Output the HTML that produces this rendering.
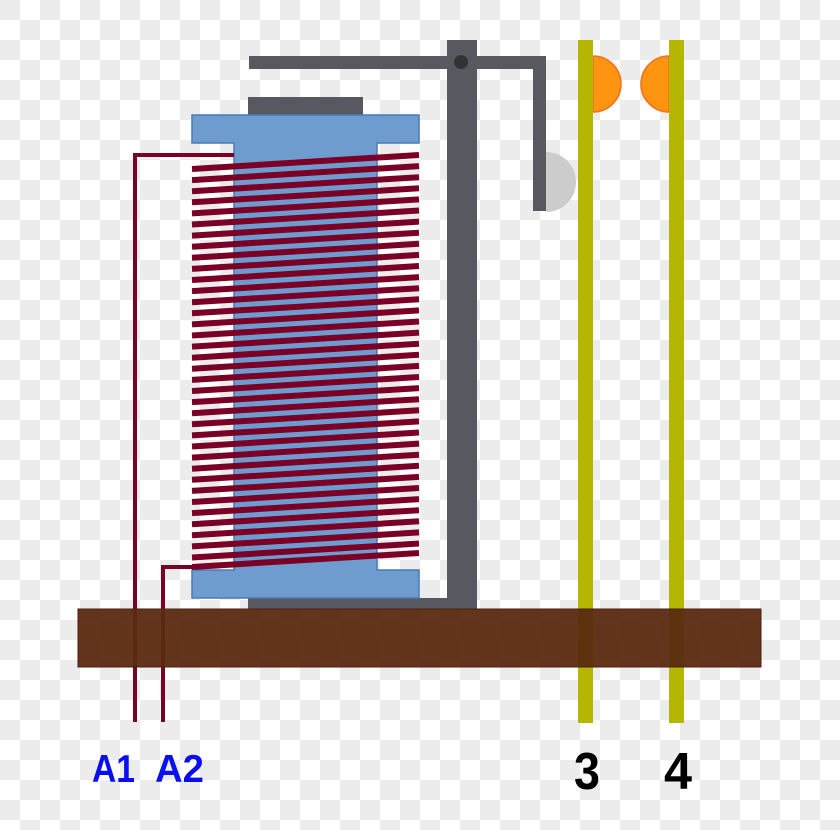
<!DOCTYPE html>
<html><head><style>
html,body{margin:0;padding:0;width:840px;height:830px;overflow:hidden;}
body{background-color:#fff;background-image:linear-gradient(45deg,#ececec 25%,transparent 25%,transparent 75%,#ececec 75%),linear-gradient(45deg,#ececec 25%,transparent 25%,transparent 75%,#ececec 75%);background-size:40px 40px;background-position:20px 0,0 20px;}
</style></head><body>
<svg width="840" height="830" viewBox="0 0 840 830" xmlns="http://www.w3.org/2000/svg" style="position:absolute;left:0;top:0">
<rect x="447" y="40" width="30" height="569" fill="#575860"/>
<rect x="248" y="598" width="229" height="11" fill="#575860"/>
<rect x="248" y="97" width="115" height="18" fill="#575860"/>
<path d="M546 152 A30 30 0 0 1 546 212 Z" fill="#cccccc"/>
<rect x="249" y="56" width="297" height="13" fill="#575860"/>
<rect x="533" y="56" width="13" height="155" fill="#575860"/>
<circle cx="461" cy="62" r="7" fill="#333"/>
<path d="M192 115 H419 V143 H377 V570 H419 V598 H192 V570 H234 V143 H192 Z" fill="#6f9ccf" stroke="#4a7ab5" stroke-width="1.5"/>
<g stroke="#7a0025" stroke-width="6" id="w"></g>
<g fill="none" stroke="#7a0025" stroke-width="4">
<path d="M135 722 V155 H234"/>
<path d="M163 722 V567 H194"/>
</g>
<path d="M593 56 A28 28 0 0 1 593 112 Z" fill="#ff9410" stroke="#f07020" stroke-width="1.5"/>
<path d="M669 56 A28 28 0 0 0 669 112 Z" fill="#ff9410" stroke="#f07020" stroke-width="1.5"/>
<rect x="578" y="40" width="15" height="683" fill="#b5b600"/>
<rect x="669" y="40" width="15" height="683" fill="#b5b600"/>
<rect x="78" y="609" width="683" height="58" fill="#5a2a10" fill-opacity="0.95" stroke="#4a2010"/>
<text x="92" y="782" textLength="43" lengthAdjust="spacingAndGlyphs" font-family="Liberation Sans, sans-serif" font-weight="bold" font-size="39" fill="#0a0ff0">A1</text>
<text x="155" y="782" textLength="49" lengthAdjust="spacingAndGlyphs" font-family="Liberation Sans, sans-serif" font-weight="bold" font-size="39" fill="#0a0ff0">A2</text>
<text x="574" y="789" textLength="26" lengthAdjust="spacingAndGlyphs" font-family="Liberation Sans, sans-serif" font-weight="bold" font-size="52" fill="#000">3</text>
<text x="664" y="789" textLength="28" lengthAdjust="spacingAndGlyphs" font-family="Liberation Sans, sans-serif" font-weight="bold" font-size="52" fill="#000">4</text>
</svg>
<script>
var g=document.getElementById('w'),s='';
for(var i=0;i<36;i++){var l=169+i*11.1;s+='<line x1="192" y1="'+l+'" x2="419" y2="'+(l-14)+'"/>';}
s+='<line x1="192" y1="567" x2="419" y2="553"/>';
g.innerHTML=s;
</script>
</body></html>
